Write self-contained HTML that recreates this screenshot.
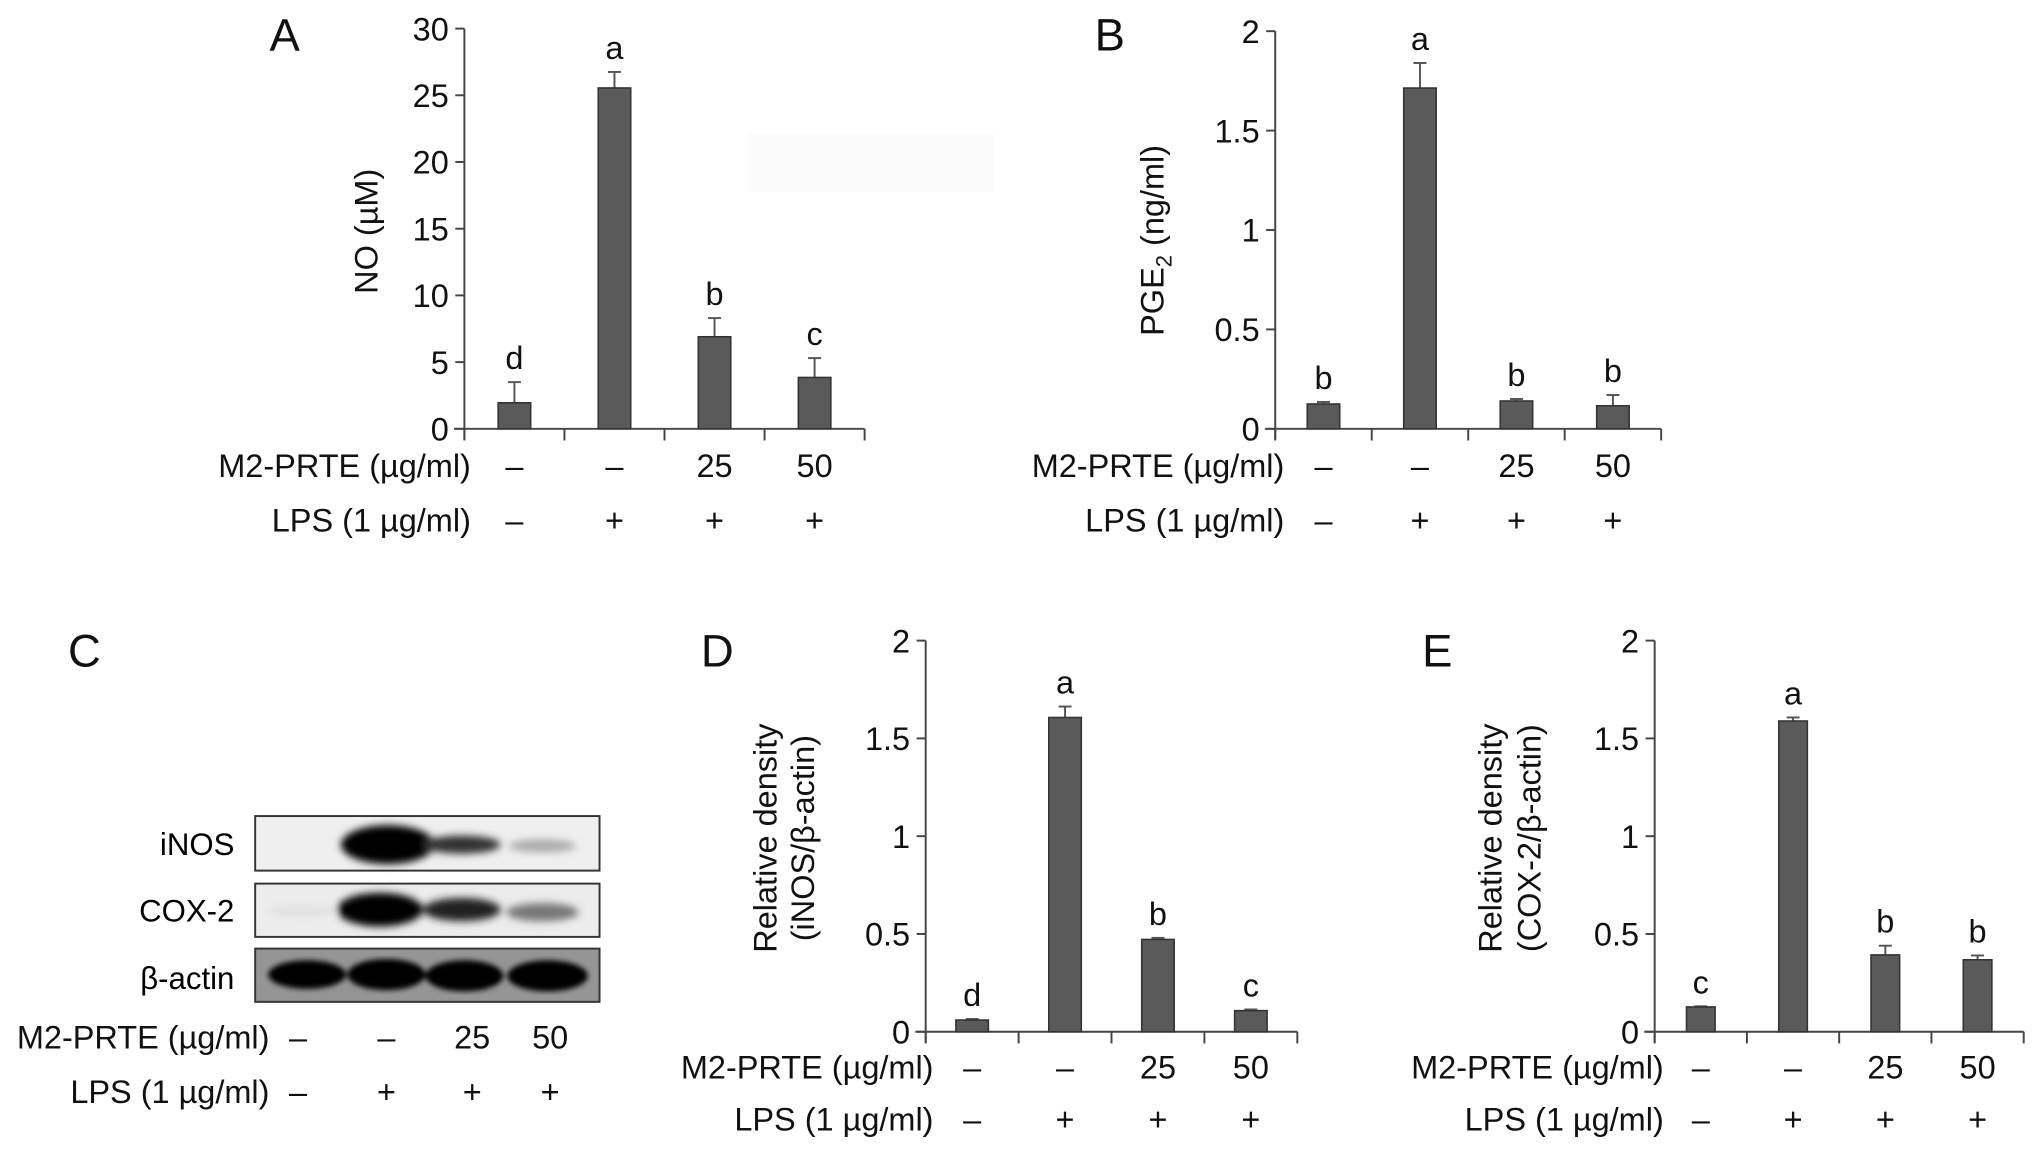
<!DOCTYPE html>
<html><head><meta charset="utf-8"><style>
html,body{margin:0;padding:0;background:#fff;}
svg{display:block;font-family:"Liberation Sans",Arial,sans-serif;}
</style></head><body>
<svg id="fig" width="2032" height="1150" viewBox="0 0 1563 885" xmlns="http://www.w3.org/2000/svg">
<defs>
<filter id="blur3"><feGaussianBlur stdDeviation="3"/></filter>
<filter id="blur2"><feGaussianBlur stdDeviation="2"/></filter>
</defs>
<rect x="0" y="0" width="1563" height="885" fill="#fff"/>
<rect x="575" y="103" width="190" height="45" fill="#fbfbfb"/>
<g font-size="35" fill="#111">
<text x="207" y="39">A</text>
<text x="842" y="39">B</text>
<text x="52" y="513">C</text>
<text x="539" y="513">D</text>
<text x="1094" y="513">E</text>
</g>
<g id="blot">
<text x="180" y="658" font-size="24" text-anchor="end">iNOS</text>
<text x="180" y="709" font-size="24" text-anchor="end">COX-2</text>
<text x="180" y="761" font-size="24" text-anchor="end">β-actin</text>
<rect x="196" y="628" width="265" height="42" fill="#efefef" stroke="#333" stroke-width="1.5"/>
<rect x="196" y="680" width="265" height="41" fill="#ececec" stroke="#333" stroke-width="1.5"/>
<rect x="196" y="730" width="265" height="41" fill="#959595" stroke="#333" stroke-width="1.5"/>
<g filter="url(#blur3)">
<ellipse cx="298" cy="650" rx="36" ry="15" fill="#000"/>
<ellipse cx="355" cy="650" rx="30" ry="7" fill="#333"/>
<ellipse cx="417" cy="651" rx="26" ry="5" fill="#aaa"/>
<ellipse cx="292" cy="700" rx="33" ry="13" fill="#000"/>
<ellipse cx="355" cy="700" rx="30" ry="9" fill="#222"/>
<ellipse cx="417" cy="702" rx="28" ry="7" fill="#777"/>
<ellipse cx="232" cy="701" rx="26" ry="4" fill="#e0e0e0"/>
</g>
<g filter="url(#blur2)">
<ellipse cx="236" cy="750" rx="30" ry="11" fill="#000"/>
<ellipse cx="297" cy="750" rx="30" ry="12" fill="#000"/>
<ellipse cx="357" cy="751" rx="30" ry="12" fill="#000"/>
<ellipse cx="421" cy="751" rx="31" ry="12" fill="#000"/>
</g>
</g>
<g id="plots"></g>
</svg>
<script>
// ---- data ----
const categoriesM2 = ["–", "–", "25", "50"];
const categoriesLPS = ["–", "+", "+", "+"];
const noValues = [1.95, 25.55, 6.9, 3.85];
const noErrors = [1.55, 1.2, 1.4, 1.45];
const noLetters = ["d", "a", "b", "c"];
const noTicks = [0, 5, 10, 15, 20, 25, 30];
const pgeValues = [0.125, 1.714, 0.14, 0.116];
const pgeErrors = [0.01, 0.126, 0.01, 0.054];
const pgeLetters = ["b", "a", "b", "b"];
const pgeTicks = [0, 0.5, 1, 1.5, 2];
const inosValues = [0.06, 1.607, 0.472, 0.108];
const inosErrors = [0.005, 0.056, 0.008, 0.006];
const inosLetters = ["d", "a", "b", "c"];
const coxValues = [0.127, 1.589, 0.393, 0.368];
const coxErrors = [0.003, 0.018, 0.047, 0.022];
const coxLetters = ["c", "a", "b", "b"];
const densTicks = [0, 0.5, 1, 1.5, 2];

const NS = "http://www.w3.org/2000/svg";
const root = document.getElementById("plots");
const FS = 25;
function mk(tag, attrs, parent, text) {
  const e = document.createElementNS(NS, tag);
  for (const k in attrs) e.setAttribute(k, attrs[k]);
  if (text !== undefined) e.textContent = text;
  (parent || root).appendChild(e);
  return e;
}

function panel(cfg) {
  const g = mk("g", {});
  
  
  const yMax = cfg.ticks[cfg.ticks.length - 1];
  const yScale = v => cfg.y0 - (v / yMax) * (cfg.y0 - cfg.yTop);
  const n = cfg.values.length;
  const step = (cfg.x1 - cfg.x0) / n;
  const xScale = i => cfg.x0 + step * (i + 0.5);
  const ya = mk("line", {x1: cfg.x0, y1: yScale(yMax), x2: cfg.x0, y2: cfg.y0 + 8, stroke: "#444", "stroke-width": 1.5}, g);
  
  
  cfg.ticks.forEach(t => {
    const y = yScale(t);
    mk("line", {x1: cfg.x0 - 7, y1: y, x2: cfg.x0, y2: y, stroke: "#444", "stroke-width": 1.5}, g);
    const tl = mk("text", {x: cfg.x0 - 12, y: y + 9, "font-size": 25, "text-anchor": "end", fill: "#111"}, g, String(t));
    
    
  });
  const xa = mk("line", {x1: cfg.x0 - 8, y1: cfg.y0, x2: cfg.x1, y2: cfg.y0, stroke: "#444", "stroke-width": 1.5}, g);
  
  
  for (let i = 0; i <= n; i++) {
    const x = cfg.x0 + step * i;
    mk("line", {x1: x, y1: cfg.y0, x2: x, y2: cfg.y0 + 9, stroke: "#444", "stroke-width": 1.5}, g);
  }
  cfg.values.forEach((v, i) => {
    const cx = xScale(i);
    const top = yScale(v);
    const etop = yScale(v + cfg.errors[i]);
    const el = mk("line", {x1: cx, y1: top, x2: cx, y2: etop, stroke: "#555", "stroke-width": 1.5}, g);
    
    
    mk("line", {x1: cx - 5, y1: etop, x2: cx + 5, y2: etop, stroke: "#555", "stroke-width": 1.5}, g);
    const r = mk("rect", {x: cx - cfg.bw / 2, y: top, width: cfg.bw, height: cfg.y0 - top, fill: "#5a5a5a", stroke: "#333", "stroke-width": 1.2}, g);
    
    
    const lt = mk("text", {x: cx, y: etop - 10, "font-size": 25, "text-anchor": "middle", fill: "#111"}, g, cfg.letters[i]);
    
    
    const c1 = mk("text", {x: cx, y: cfg.row1 + 9, "font-size": FS, "text-anchor": "middle", fill: "#111"}, g, categoriesM2[i]);
    
    
    const c2 = mk("text", {x: cx, y: cfg.row2 + 9, "font-size": FS, "text-anchor": "middle", fill: "#111"}, g, categoriesLPS[i]);
    
    
  });
  const r1 = mk("text", {x: cfg.labelX, y: cfg.row1 + 9, "font-size": FS, "text-anchor": "end", fill: "#111"}, g, "M2-PRTE (µg/ml)");
  
  
  const r2 = mk("text", {x: cfg.labelX, y: cfg.row2 + 9, "font-size": FS, "text-anchor": "end", fill: "#111"}, g, "LPS (1 µg/ml)");
  
  
  cfg.titles.forEach(t => {
    const tt = mk("text", {x: 0, y: 0, "font-size": 25, "text-anchor": "middle", fill: "#111",
      transform: "translate(" + t.x + "," + t.y + ") rotate(-90)"}, g);
    
    
    if (t.sub) {
      tt.appendChild(document.createTextNode("PGE"));
      mk("tspan", {"font-size": 17, dy: 6}, tt, "2");
      mk("tspan", {dy: -6}, tt, " (ng/ml)");
    } else tt.textContent = t.text;
  });
  return g;
}

panel({name: "chart-no", values: noValues, errors: noErrors, letters: noLetters, ticks: noTicks,
  x0: 357, x1: 665, y0: 330, yTop: 22, bw: 25, row1: 358, row2: 400, labelX: 362,
  titles: [{x: 290, y: 178, text: "NO (µM)"}]});
panel({name: "chart-pge2", values: pgeValues, errors: pgeErrors, letters: pgeLetters, ticks: pgeTicks,
  x0: 981, x1: 1278, y0: 330, yTop: 24, bw: 25, row1: 358, row2: 400, labelX: 988,
  titles: [{x: 895, y: 185, sub: true}]});
panel({name: "chart-inos-density", values: inosValues, errors: inosErrors, letters: inosLetters, ticks: densTicks,
  x0: 712, x1: 998, y0: 794, yTop: 493, bw: 25, row1: 821, row2: 861, labelX: 718,
  titles: [{x: 597, y: 645, text: "Relative density"}, {x: 626, y: 645, text: "(iNOS/β-actin)"}]});
panel({name: "chart-cox2-density", values: coxValues, errors: coxErrors, letters: coxLetters, ticks: densTicks,
  x0: 1273, x1: 1557, y0: 794, yTop: 493, bw: 22, row1: 821, row2: 861, labelX: 1280,
  titles: [{x: 1155, y: 645, text: "Relative density"}, {x: 1185, y: 645, text: "(COX-2/β-actin)"}]});

const blotLanes = [229, 297, 363, 423];
const blotRow1 = mk("text", {x: 207, y: 807, "font-size": FS, "text-anchor": "end", fill: "#111"}, root, "M2-PRTE (µg/ml)");


const blotRow2 = mk("text", {x: 207, y: 849, "font-size": FS, "text-anchor": "end", fill: "#111"}, root, "LPS (1 µg/ml)");


blotLanes.forEach((x, i) => {
  const a = mk("text", {x: x, y: 807, "font-size": FS, "text-anchor": "middle", fill: "#111"}, root, categoriesM2[i]);
  
  
  const b = mk("text", {x: x, y: 849, "font-size": FS, "text-anchor": "middle", fill: "#111"}, root, categoriesLPS[i]);
  
  
});
</script>
</body></html>
